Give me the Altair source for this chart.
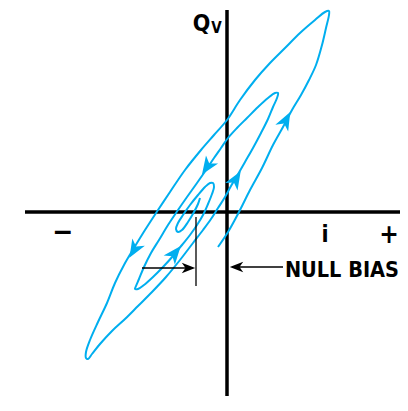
import math
import altair as alt
import pandas as pd

# Hysteresis spiral (i = current, q = Qv), origin at the axes' crossing
curve_i = [-9, 1, 13, 23, 35, 46, 56, 65, 74, 82, 89, 95, 99, 102, 102,
           98, 88, 73, 58, 43, 28, 13, 0, -13, -26, -42, -57, -69, -82, -93, -103, -112, -120, -129, -137, -141, -141, -139,
           -135, -127, -115, -102, -89, -75, -61, -47, -34, -24, -16, -9, -2, 4, 10, 18, 26, 34, 41, 46, 50, 51,
           48, 41, 31, 20, 10, 1, -6, -13, -21, -30, -40, -49, -59, -68, -76, -83, -88, -91, -92,
           -89, -83, -74, -64, -54, -45, -37, -30, -24, -19, -15, -13, -14,
           -17, -22, -29, -37, -44, -49, -51, -49, -45, -39, -33, -29, -27]
curve_q = [-35, -20, 2, 22, 44, 67, 85, 102, 117, 132, 147, 167, 184, 197, 201,
           200, 192, 179, 164, 149, 132, 112, 92, 77, 62, 42, 20, 2, -18, -36, -53, -71, -91, -110, -128, -140, -146, -147,
           -142, -132, -119, -107, -94, -80, -65, -48, -31, -18, -7, 4, 15, 26, 36, 50, 64, 79, 93, 105, 114, 119,
           119, 114, 105, 94, 84, 74, 64, 54, 42, 29, 15, 2, -13, -28, -41, -55, -67, -74, -77,
           -77, -73, -65, -55, -44, -33, -23, -13, -3, 8, 18, 25, 29,
           29, 25, 17, 7, -3, -11, -17, -20, -18, -10, 0, 8, 14]

# direction arrows on the spiral
arrow_i = [59, 9, -20, -93, -52]
arrow_q = [92, 33, 45, -38, -41]

# axes
axis_i = [0, -202]
axis_i2 = [0, 181]
axis_q = [-196, 0]
axis_q2 = [202, 0]

# null-bias marker line and arrows
marker_i = -31
marker_q = [-5, -74]
barrow_start_i = [56, -85]
barrow_tip_i = [3, -32]
barrow_q = [-55, -56]

labels = ["Q", "V", "\u2212", "i", "+"]
label_i = [-25.5, -10.5, -164.5, 98, 162]
label_q = [181, 179, -29, -30, -31]
label_size = [23, 15, 28, 23, 26]
note_text = "NULL BIAS"
note_i, note_q = 172, -65

BLUE = "#00AEEF"
FONT = "DejaVu Sans Condensed, Liberation Sans Narrow, sans-serif"
HEAD = "M0,-1L0.8,1L0,0.45L-0.8,1Z"

xs = alt.Scale(domain=[-219, 173], nice=False, zero=False)
ys = alt.Scale(domain=[-184, 204], nice=False, zero=False)


def seg_angle(pi, pq):
    best, ang = None, 0.0
    for k in range(len(curve_i) - 1):
        ai, aq = curve_i[k], curve_q[k]
        bi, bq = curve_i[k + 1], curve_q[k + 1]
        di, dq = bi - ai, bq - aq
        L2 = di * di + dq * dq
        t = max(0.0, min(1.0, ((pi - ai) * di + (pq - aq) * dq) / L2))
        d = (ai + t * di - pi) ** 2 + (aq + t * dq - pq) ** 2
        if best is None or d < best:
            best, ang = d, math.degrees(math.atan2(di, dq)) % 360
    return ang


curve_df = pd.DataFrame({"i": curve_i, "q": curve_q, "k": range(len(curve_i))})
arrows_df = pd.DataFrame({"i": arrow_i, "q": arrow_q,
                          "angle": [seg_angle(a, b) for a, b in zip(arrow_i, arrow_q)]})
axes_df = pd.DataFrame({"i": axis_i, "i2": axis_i2, "q": axis_q, "q2": axis_q2})
marker_df = pd.DataFrame({"i": [marker_i], "q": [marker_q[0]], "q2": [marker_q[1]]})

bl_rows, bh_rows = [], []
for s, t, q in zip(barrow_start_i, barrow_tip_i, barrow_q):
    u = 1 if t > s else -1
    bl_rows.append({"i": s, "i2": t - 2 * u, "q": q})
    bh_rows.append({"i": t - 6.5 * u, "q": q, "angle": 90 if u > 0 else 270})
bl_df = pd.DataFrame(bl_rows)
bh_df = pd.DataFrame(bh_rows)

labels_df = pd.DataFrame({"t": labels, "i": label_i, "q": label_q, "s": label_size})
note_df = pd.DataFrame({"t": [note_text], "i": [note_i], "q": [note_q]})

X = lambda f="i": alt.X(f"{f}:Q", scale=xs, axis=None)
Y = lambda f="q": alt.Y(f"{f}:Q", scale=ys, axis=None)

axes = alt.Chart(axes_df).mark_rule(color="black", strokeWidth=3.5).encode(
    x=X(), x2="i2:Q", y=Y(), y2="q2:Q")

curve = alt.Chart(curve_df).mark_line(color=BLUE, strokeWidth=2, interpolate="catmull-rom").encode(
    x=X(), y=Y(), order="k:Q")

heads = alt.Chart(arrows_df).mark_point(shape=HEAD, filled=True, color=BLUE, opacity=1,
                                        size=330, strokeWidth=0).encode(
    x=X(), y=Y(), angle=alt.Angle("angle:Q", scale=None))

marker = alt.Chart(marker_df).mark_rule(color="black", strokeWidth=1.3).encode(
    x=X(), y=Y(), y2="q2:Q")

blines = alt.Chart(bl_df).mark_rule(color="black", strokeWidth=1.3).encode(
    x=X(), x2="i2:Q", y=Y())

bheads = alt.Chart(bh_df).mark_point(shape=HEAD, filled=True, color="black", opacity=1,
                                     size=180, strokeWidth=0).encode(
    x=X(), y=Y(), angle=alt.Angle("angle:Q", scale=None))

text = alt.Chart(labels_df).mark_text(font=FONT, fontWeight="bold", color="black",
                                      align="center", baseline="alphabetic").encode(
    x=X(), y=Y(), text="t:N", size=alt.Size("s:Q", scale=None))

note = alt.Chart(note_df).mark_text(font=FONT, fontWeight="bold", color="black", fontSize=21.5,
                                    align="right", baseline="alphabetic").encode(
    x=X(), y=Y(), text="t:N")

chart = alt.layer(axes, curve, heads, marker, blines, bheads, text, note).properties(
    width=392, height=388, padding=0, background="white",
    autosize=alt.AutoSizeParams(type="none")
).configure_view(stroke=None)

chart.save("out.html", embed_options={"renderer": "svg", "actions": False})
